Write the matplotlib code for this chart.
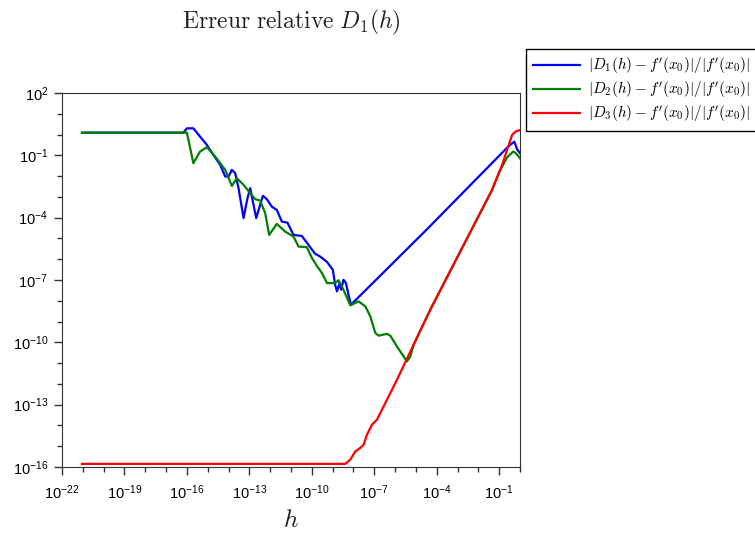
import numpy as np
import matplotlib
matplotlib.use('Agg')
import matplotlib.pyplot as plt
from matplotlib.ticker import FixedLocator, FuncFormatter

plt.rcParams['font.family'] = ['Liberation Sans', 'DejaVu Sans']
plt.rcParams['mathtext.fontset'] = 'custom'
plt.rcParams['mathtext.rm'] = 'Liberation Sans'
plt.rcParams['mathtext.it'] = 'Liberation Sans:italic'

# log10(h) and log10(relative error)
d1_lx = [-21.04, -16.17, -16.0, -15.69, -15.37, -15.04, -14.73, -14.40, -14.16, -14.0,
         -13.84, -13.68, -13.52, -13.28, -13.09, -12.96, -12.85, -12.67, -12.51, -12.35,
         -12.16, -11.92, -11.68, -11.44, -11.17, -10.88, -10.48, -10.16, -9.84, -9.60,
         -9.27, -8.99, -8.88, -8.79, -8.67, -8.59, -8.48, -8.36, -8.24, -8.12,
         -4.47, -1.42, -0.54, -0.27, -0.14, 0.0]
d1_ly = [0.09, 0.09, 0.30, 0.30, -0.10, -0.50, -0.98, -1.46, -2.02, -2.02,
         -1.70, -1.86, -2.58, -4.02, -3.06, -2.58, -3.14, -4.02, -3.47, -2.95,
         -3.11, -3.47, -3.63, -4.19, -4.24, -4.83, -4.88, -5.31, -5.74, -5.87,
         -6.13, -6.51, -7.23, -7.55, -7.15, -7.47, -6.99, -7.15, -7.71, -8.19,
         -4.56, -1.45, -0.55, -0.34, -0.71, -0.90]

d2_lx = [-21.04, -16.0, -15.69, -15.37, -15.04, -14.64, -14.40, -14.16, -13.84, -13.60,
         -13.28, -12.96, -12.72, -12.48, -12.24, -12.05, -11.68, -11.28, -10.88, -10.64,
         -10.24, -10.0, -9.76, -9.51, -9.27, -8.88, -8.72, -8.48, -8.15, -7.75,
         -7.43, -7.19, -6.95, -6.79, -6.39, -6.23, -5.91, -5.59, -5.43, -5.27,
         -5.10, -4.31, -1.34, -1.0, -0.62, -0.33, -0.22, -0.06, 0.0]
d2_ly = [0.09, 0.09, -1.38, -0.82, -0.61, -1.06, -1.38, -1.70, -2.47, -2.10,
         -2.42, -2.82, -3.11, -3.18, -3.78, -4.83, -4.30, -4.67, -4.91, -5.39,
         -5.42, -5.93, -6.32, -6.67, -7.15, -7.15, -7.01, -7.47, -8.22, -8.03,
         -8.27, -8.75, -9.55, -9.68, -9.59, -9.68, -10.20, -10.68, -10.92, -10.68,
         -10.09, -8.43, -2.66, -1.81, -1.10, -0.82, -0.88, -1.06, -1.14]

d3_lx = [-21.04, -8.39, -8.15, -7.91, -7.67, -7.51, -7.35, -7.11, -6.87, -6.55,
         -6.23, -5.91, -4.31, -1.34, -0.86, -0.38, -0.22, 0.0]
d3_ly = [-15.85, -15.85, -15.64, -15.25, -15.08, -14.92, -14.44, -13.96, -13.72, -13.08,
         -12.44, -11.80, -8.43, -2.66, -1.46, -0.02, 0.14, 0.22]

labels = [r'$|D_1(h)-f^{\prime}(x_0)|/|f^{\prime}(x_0)|$',
          r'$|D_2(h)-f^{\prime}(x_0)|/|f^{\prime}(x_0)|$',
          r'$|D_3(h)-f^{\prime}(x_0)|/|f^{\prime}(x_0)|$']
colors = ['#0000ff', '#008000', '#ff0000']

fig = plt.figure(figsize=(7.55, 5.33), dpi=100)
ax = fig.add_axes([62/755, 1-467/533, 458/755, 374/533])

series = [(d1_lx, d1_ly), (d2_lx, d2_ly), (d3_lx, d3_ly)]
for (lx, ly), c, lab in zip(series, colors, labels):
    ax.plot(10.0**np.array(lx), 10.0**np.array(ly), color=c, lw=1.6, label=lab)

ax.set_xscale('log')
ax.set_yscale('log')
ax.set_xlim(1e-22, 1)
ax.set_ylim(1e-16, 1e2)

xmaj = np.arange(-22, 0, 3)
xmin = [e for e in range(-22, 1) if e not in xmaj]
ymaj = np.arange(-16, 3, 3)
ymin = [e for e in range(-16, 3) if e not in ymaj]
ax.xaxis.set_major_locator(FixedLocator(10.0**xmaj))
ax.xaxis.set_minor_locator(FixedLocator(10.0**np.array(xmin)))
ax.yaxis.set_major_locator(FixedLocator(10.0**ymaj))
ax.yaxis.set_minor_locator(FixedLocator(10.0**np.array(ymin)))
fmt = FuncFormatter(lambda v, p: r'$\mathregular{10^{%d}}$' % int(round(np.log10(v))))
ax.xaxis.set_major_formatter(fmt)
ax.yaxis.set_major_formatter(fmt)
ax.xaxis.set_minor_formatter(FuncFormatter(lambda v, p: ''))
ax.yaxis.set_minor_formatter(FuncFormatter(lambda v, p: ''))
ax.tick_params(which='major', length=6, width=1, labelsize=10.5, pad=4, color='#333333')
ax.tick_params(axis='x', which='major', pad=6)
ax.tick_params(which='minor', length=3.5, width=1, color='#333333')
for s in ax.spines.values():
    s.set_color('#333333')

title = fig.text(291/755, 1-22/533, r'$\mathrm{Erreur\ relative}\ D_1(h)$',
                 ha='center', va='center', fontsize=17, color='#222222')
title.set_math_fontfamily('cm')
xl = fig.text(291/755, 1-520/533, r'$h$', ha='center', va='center', fontsize=18,
              color='#222222')
xl.set_math_fontfamily('cm')

leg = fig.legend(loc='upper left', bbox_to_anchor=(526/755, 1-49/533), borderaxespad=0,
                 fancybox=False, edgecolor='black', framealpha=1, fontsize=11,
                 handlelength=3.1, handletextpad=0.5, labelspacing=0.25,
                 borderpad=0.45)
leg.get_frame().set_linewidth(1.0)
for t in leg.get_texts():
    t.set_math_fontfamily('cm')

fig.savefig('out.png', dpi=100)
